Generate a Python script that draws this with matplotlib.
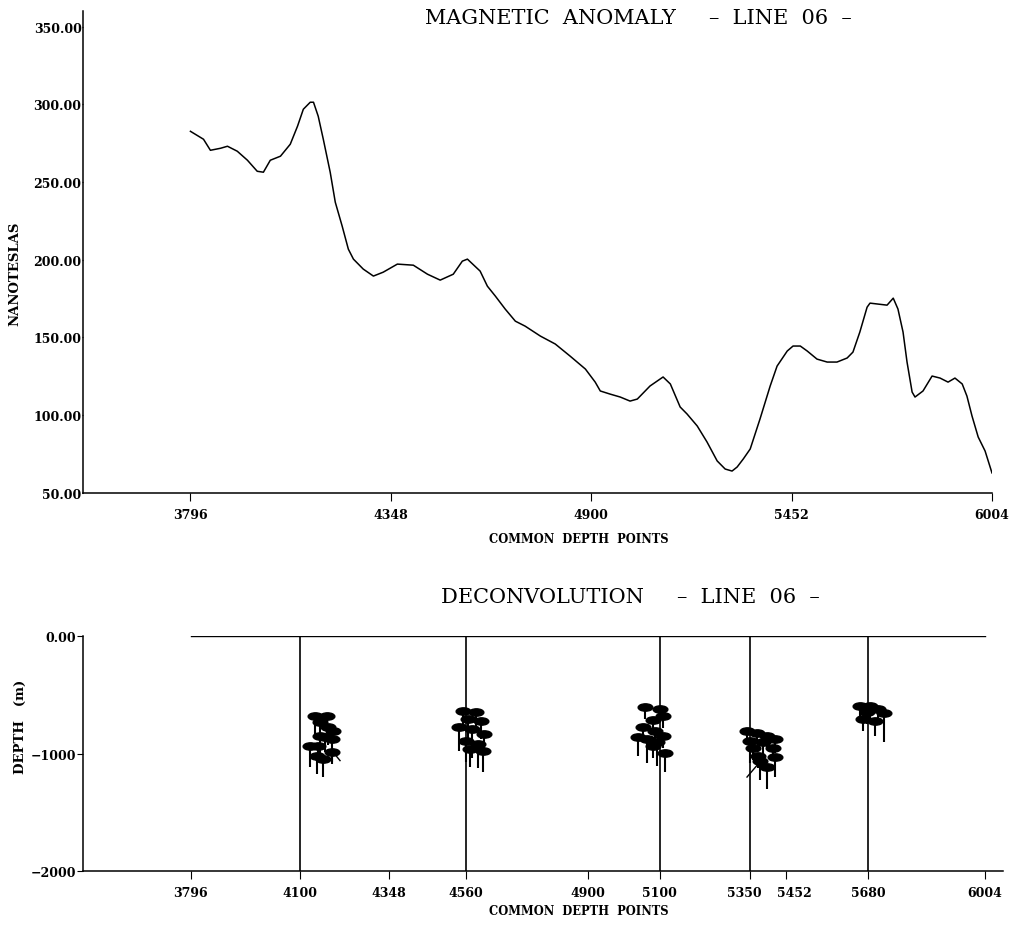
import matplotlib
matplotlib.use("Agg")
from matplotlib import pyplot as plt
from matplotlib.markers import MarkerStyle
from matplotlib.transforms import Affine2D, ScaledTranslation

# Magnetic anomaly profile, line 06
cdp = [3796, 3832, 3851, 3879, 3898, 3925, 3953, 3980, 3997, 4016,
       4044, 4071, 4091, 4107, 4126, 4135, 4148, 4162, 4181, 4195,
       4214, 4231, 4245, 4272, 4300, 4327, 4366, 4410, 4449, 4484,
       4520, 4545, 4559, 4594, 4614, 4636, 4663, 4691, 4718, 4760,
       4801, 4842, 4884, 4911, 4925, 4952, 4980, 5007, 5027, 5062,
       5098, 5118, 5145, 5164, 5192, 5219, 5247, 5269, 5288, 5302,
       5319, 5338, 5365, 5393, 5412, 5440, 5456, 5476, 5495, 5522,
       5550, 5577, 5605, 5621, 5640, 5660, 5668, 5715, 5732, 5745,
       5759, 5770, 5784, 5792, 5814, 5839, 5861, 5883, 5902, 5922,
       5935, 5949, 5966, 5985, 6004]
nt = [282.6, 277.5, 270.4, 271.7, 273.0, 269.8, 264.0, 256.9, 256.3, 264.0,
      266.6, 274.3, 285.9, 296.8, 301.3, 301.3, 292.3, 277.5, 256.3, 237.0,
      221.6, 206.8, 200.4, 194.0, 189.5, 192.0, 197.2, 196.5, 190.7, 186.9,
      190.7, 199.1, 200.4, 192.7, 183.0, 176.6, 168.3, 160.5, 157.3, 150.9,
      145.8, 138.0, 129.7, 121.3, 115.6, 113.6, 111.7, 109.1, 110.4, 118.8,
      124.6, 120.1, 105.3, 100.8, 93.1, 82.8, 70.6, 65.4, 64.1, 66.7,
      71.9, 78.3, 97.6, 118.8, 131.6, 141.3, 144.5, 144.5, 141.3, 136.1,
      134.2, 134.2, 136.8, 140.6, 153.5, 169.5, 172.1, 170.8, 175.3, 168.3,
      153.5, 134.2, 114.9, 111.7, 115.6, 125.2, 123.9, 121.3, 123.9, 120.1,
      112.3, 99.5, 86.0, 77.0, 62.9]

# Deconvolution solutions: position, depth (m) and depth spread (m)
sol_cdp = [4141, 4175, 4155, 4178, 4191, 4155, 4169, 4189, 4127, 4150, 4189, 4164, 4147,
           4553, 4589, 4567, 4603, 4542, 4578, 4611, 4561, 4595, 4572, 4609,
           5059, 5101, 5109, 5082, 5054, 5087, 5040, 5065, 5109, 5093, 5082, 5115,
           5343, 5371, 5399, 5421, 5351, 5387, 5415, 5360, 5374, 5421, 5399, 5379,
           5657, 5685, 5677, 5699, 5666, 5724, 5707]
sol_depth = [-680, -680, -730, -775, -810, -850, -860, -875, -935, -935, -985, -1045, -1020,
             -638, -647, -706, -723, -774, -791, -834, -894, -919, -962, -979,
             -604, -621, -681, -715, -774, -808, -860, -877, -851, -902, -936, -996,
             -808, -825, -851, -877, -894, -902, -953, -953, -1021, -1030, -1115, -1064,
             -596, -596, -647, -723, -706, -655, -621]
sol_spread = [150, 100, 120, 150, 100, 150, 130, 200, 180, 120, 100, 155, 150,
              150, 120, 200, 150, 200, 250, 150, 180, 200, 150, 180,
              100, 100, 100, 100, 100, 100, 160, 200, 100, 200, 100, 160,
              100, 80, 100, 120, 190, 100, 100, 100, 100, 170, 190, 160,
              100, 100, 100, 130, 100, 250, 100]

# wells / reference lines
well_cdp = [4100, 4560, 5100, 5350, 5680]

top_xticks = [3796, 4348, 4900, 5452, 6004]
top_yticks = [50, 100, 150, 200, 250, 300, 350]
bot_xticks = [3796, 4100, 4348, 4560, 4900, 5100, 5350, 5452, 5680, 6004]
bot_yticks = [0, -1000, -2000]
bot_ylabels = ["0.00", "\u22121000", "\u22122000"]

serif = "DejaVu Serif"

fig = plt.figure(figsize=(10.27, 9.28), dpi=100)

# ---- magnetic anomaly ----
ax1 = fig.add_axes([0.0808, 0.4677, 0.8851, 0.5194])
ax1.plot(cdp, nt, color='k', linewidth=1.1)
ax1.set_xlim(3500, 6004)
ax1.set_ylim(50, 360)
ax1.set_xticks(top_xticks)
ax1.set_xticklabels([str(v) for v in top_xticks])
ax1.set_yticks(top_yticks)
ax1.set_yticklabels(["%.2f" % v for v in top_yticks])
ax1.spines['top'].set_visible(False)
ax1.spines['right'].set_visible(False)
ax1.tick_params(axis='x', direction='out', length=6, pad=5)
ax1.tick_params(axis='y', direction='out', length=1, pad=0)

# ---- deconvolution ----
ax2 = fig.add_axes([0.0808, 0.0603, 0.8958, 0.2532])
ax2.plot([top_xticks[0], top_xticks[-1]], [0, 0], color='k', linewidth=1.0)
ax2.vlines(well_cdp, -2000, 0, color='k', linewidth=1.2)
lows = [d - s for d, s in zip(sol_depth, sol_spread)]
ax2.vlines(sol_cdp, lows, sol_depth, color='k', linewidth=1.5)
blob = MarkerStyle('o', transform=Affine2D().scale(2.0, 1.0))
ax2.scatter(sol_cdp, sol_depth, marker=blob, s=28, color='k', zorder=3)
# dip indicators
ax2.plot([4191, 4211], [-985, -1060], color='k', linewidth=1.0)
ax2.plot([5343, 5374], [-1200, -1089], color='k', linewidth=1.0)
ax2.set_xlim(3496, 6055)
ax2.set_ylim(-2000, 0)
ax2.set_xticks(bot_xticks)
ax2.set_xticklabels([str(v) for v in bot_xticks])
ax2.set_yticks(bot_yticks)
ax2.set_yticklabels(bot_ylabels)
ax2.spines['top'].set_visible(False)
ax2.spines['right'].set_visible(False)
ax2.tick_params(axis='x', direction='out', length=6, pad=5)
ax2.tick_params(axis='y', direction='out', length=4, pad=1)

for ax in (ax1, ax2):
    for lab in ax.get_xticklabels() + ax.get_yticklabels():
        lab.set_fontfamily(serif)
        lab.set_fontweight('bold')
        lab.set_fontsize(9.0)
    for sp in ax.spines.values():
        sp.set_linewidth(1.1)

# 5350 and 5452 sit close together; nudge labels apart as on the original plot
xl = ax2.get_xticklabels()
xl[6].set_transform(xl[6].get_transform() + ScaledTranslation(-5 / 100, 0, fig.dpi_scale_trans))
xl[7].set_transform(xl[7].get_transform() + ScaledTranslation(8 / 100, 0, fig.dpi_scale_trans))

# titles and axis labels
fig.text(638 / 1027, 1 - 18 / 928, "MAGNETIC  ANOMALY     \u2013  LINE  06  \u2013",
         ha='center', va='center', family=serif, fontsize=15)
fig.text(630 / 1027, 1 - 598 / 928, "DECONVOLUTION     \u2013  LINE  06  \u2013",
         ha='center', va='center', family=serif, fontsize=15)
fig.text(579 / 1027, 1 - 540 / 928, "COMMON  DEPTH  POINTS", ha='center', va='center',
         family=serif, fontweight='bold', fontsize=8.3)
fig.text(579 / 1027, 1 - 912 / 928, "COMMON  DEPTH  POINTS", ha='center', va='center',
         family=serif, fontweight='bold', fontsize=8.3)
fig.text(15 / 1027, 1 - 274 / 928, "NANOTESLAS", rotation=90, ha='center', va='center',
         family=serif, fontweight='bold', fontsize=9.5)
fig.text(20 / 1027, 1 - 727 / 928, "DEPTH   (m)", rotation=90, ha='center', va='center',
         family=serif, fontweight='bold', fontsize=9.5)

fig.savefig("out.png", dpi=100)
